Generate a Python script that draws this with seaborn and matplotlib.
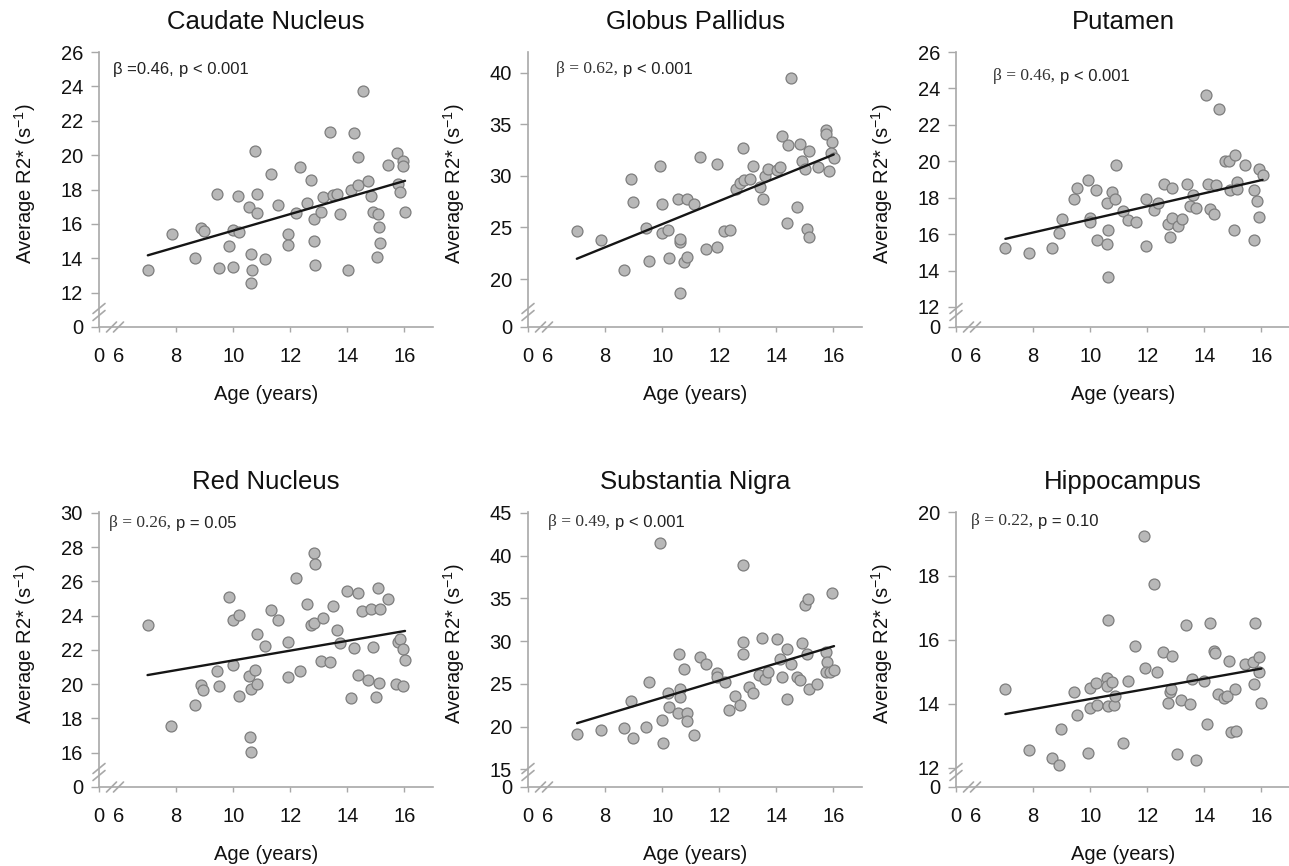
import numpy as np
import pandas as pd
import matplotlib
matplotlib.use("Agg")
import matplotlib.pyplot as plt
import seaborn as sns

# ---------------- data ----------------
titles = ["Caudate Nucleus", "Globus Pallidus", "Putamen",
          "Red Nucleus", "Substantia Nigra", "Hippocampus"]

age_caudate = [7.01, 7.84, 8.67, 8.87, 8.97, 9.42, 9.51, 9.86, 9.98, 10.0, 10.16, 10.22, 10.57, 10.63,
               10.65, 10.63, 10.78, 10.84, 10.84, 11.12, 11.33, 11.57, 11.92, 11.92, 12.19, 12.35, 12.59,
               12.74, 12.82, 12.82, 12.86, 13.06, 13.15, 13.38, 13.50, 13.62, 13.74, 14.03, 14.12, 14.23,
               14.36, 14.38, 14.56, 14.73, 14.83, 14.89, 15.03, 15.06, 15.11, 15.14, 15.41, 15.73, 15.79,
               15.85, 15.94, 15.94, 16.02]
r2_caudate = [13.34, 15.44, 14.04, 15.77, 15.58, 17.72, 13.46, 14.70, 15.64, 13.50, 17.62, 15.54, 16.99,
              14.24, 13.34, 12.58, 20.24, 17.72, 16.65, 13.98, 18.90, 17.09, 15.40, 14.76, 16.65, 19.33,
              17.19, 18.55, 16.28, 15.01, 13.63, 16.67, 17.58, 21.37, 17.68, 17.74, 16.57, 13.34, 17.97,
              21.28, 18.26, 19.91, 23.74, 18.49, 17.64, 16.71, 14.08, 16.57, 15.83, 14.90, 19.43, 20.11,
              18.30, 17.83, 19.66, 19.39, 16.71]

age_globus = [7.01, 7.85, 8.68, 8.91, 8.98, 9.44, 9.55, 9.92, 10.0, 10.0, 10.22, 10.23, 10.57, 10.61,
              10.64, 10.61, 10.78, 10.86, 10.86, 11.13, 11.34, 11.55, 11.91, 11.91, 12.18, 12.36, 12.57,
              12.74, 12.84, 12.86, 13.06, 13.18, 13.41, 13.53, 13.59, 13.72, 14.03, 14.14, 14.20, 14.36,
              14.40, 14.52, 14.73, 14.83, 14.90, 15.02, 15.07, 15.13, 15.14, 15.45, 15.75, 15.75, 15.83,
              15.96, 15.92, 16.01]
r2_globus = [24.66, 23.79, 20.87, 29.71, 27.44, 24.92, 21.75, 31.00, 24.43, 27.28, 24.76, 22.00, 27.80,
             23.62, 23.88, 18.67, 21.68, 22.17, 27.80, 27.28, 31.81, 22.88, 31.13, 23.14, 24.69, 24.76,
             28.71, 29.35, 32.69, 29.61, 29.71, 30.97, 28.96, 27.73, 30.00, 30.65, 30.52, 30.90, 33.88,
             25.40, 33.00, 39.48, 27.02, 33.07, 31.46, 30.65, 24.82, 32.36, 24.05, 30.90, 34.40, 34.05,
             30.42, 33.27, 32.20, 31.72]

age_putamen = [7.03, 7.85, 8.68, 8.90, 9.00, 9.43, 9.54, 9.93, 9.99, 10.01, 10.22, 10.24, 10.59, 10.60,
               10.63, 10.63, 10.77, 10.86, 10.90, 11.15, 11.33, 11.59, 11.94, 11.94, 12.23, 12.38, 12.58,
               12.71, 12.81, 12.85, 12.87, 13.06, 13.20, 13.40, 13.51, 13.61, 13.72, 14.04, 14.13, 14.21,
               14.34, 14.40, 14.51, 14.72, 14.86, 14.89, 15.04, 15.09, 15.15, 15.16, 15.44, 15.75, 15.75,
               15.83, 15.92, 15.92, 16.04]
r2_putamen = [15.22, 14.98, 15.25, 16.05, 16.82, 17.95, 18.55, 18.95, 16.91, 16.67, 18.45, 15.67, 17.71,
              15.47, 16.25, 13.62, 18.31, 17.95, 19.82, 17.27, 16.76, 16.64, 17.95, 15.35, 17.35, 17.73,
              18.76, 16.56, 15.82, 16.89, 18.55, 16.44, 16.85, 18.76, 17.53, 18.16, 17.44, 23.64, 18.76,
              17.36, 17.13, 18.67, 22.89, 20.04, 20.04, 18.45, 16.25, 20.35, 18.85, 18.49, 19.80, 18.40,
              15.67, 17.80, 19.58, 16.95, 19.22]

age_red = [7.00, 7.82, 8.67, 8.87, 8.95, 9.42, 9.52, 9.86, 9.98, 10.0, 10.19, 10.19, 10.54, 10.59, 10.63,
           10.63, 10.78, 10.84, 10.84, 11.12, 11.31, 11.57, 11.92, 11.92, 12.19, 12.35, 12.58, 12.74, 12.82,
           12.82, 12.86, 13.06, 13.15, 13.38, 13.50, 13.62, 13.74, 14.00, 14.12, 14.23, 14.36, 14.38, 14.52,
           14.73, 14.83, 14.91, 15.02, 15.08, 15.12, 15.14, 15.43, 15.72, 15.76, 15.84, 15.94, 15.94, 16.02]
r2_red = [23.47, 17.55, 18.77, 19.94, 19.68, 20.79, 19.92, 25.06, 23.76, 21.14, 24.05, 19.30, 20.46, 16.91,
          16.04, 19.72, 20.85, 22.92, 20.01, 22.24, 24.34, 23.72, 22.46, 20.40, 26.18, 20.79, 24.67, 23.47,
          23.60, 27.63, 26.99, 21.33, 23.89, 21.27, 24.57, 23.14, 22.40, 25.46, 19.20, 22.11, 20.56, 25.31,
          24.30, 20.23, 24.38, 22.20, 19.26, 25.64, 20.07, 24.40, 24.96, 20.01, 22.46, 22.65, 19.88, 22.07,
          21.43]

age_sn = [7.02, 7.84, 8.68, 8.91, 8.98, 9.43, 9.55, 9.91, 9.99, 10.02, 10.19, 10.23, 10.57, 10.58, 10.62,
          10.64, 10.78, 10.86, 10.87, 11.13, 11.32, 11.55, 11.91, 11.91, 12.20, 12.35, 12.55, 12.72, 12.82,
          12.84, 12.84, 13.05, 13.17, 13.38, 13.49, 13.60, 13.71, 14.01, 14.12, 14.19, 14.36, 14.37, 14.51,
          14.71, 14.82, 14.89, 15.00, 15.07, 15.11, 15.13, 15.44, 15.73, 15.79, 15.73, 15.88, 15.94, 16.02]
r2_sn = [19.18, 19.57, 19.88, 23.01, 18.63, 19.96, 25.27, 41.45, 20.78, 18.05, 23.98, 22.30, 21.56, 28.48,
         24.45, 23.48, 26.72, 21.56, 20.66, 19.02, 28.16, 27.38, 26.33, 25.82, 25.27, 21.91, 23.63, 22.48,
         29.92, 28.48, 38.95, 24.69, 23.91, 26.02, 30.39, 25.63, 26.41, 30.31, 27.89, 25.86, 23.20, 29.14,
         27.38, 25.86, 25.47, 29.73, 34.22, 28.55, 34.92, 24.45, 24.96, 28.75, 27.58, 26.45, 26.45, 35.63,
         26.60]

age_hippo = [7.03, 7.86, 8.67, 8.90, 8.99, 9.43, 9.55, 9.92, 9.99, 9.99, 10.21, 10.24, 10.58, 10.58, 10.62,
             10.62, 10.76, 10.85, 10.87, 11.14, 11.31, 11.57, 11.90, 11.92, 12.22, 12.34, 12.56, 12.71,
             12.80, 12.85, 12.83, 13.03, 13.17, 13.37, 13.49, 13.58, 13.70, 13.99, 14.10, 14.19, 14.34,
             14.37, 14.49, 14.69, 14.80, 14.88, 14.95, 15.06, 15.12, 15.42, 15.71, 15.73, 15.79, 15.91,
             15.93, 16.00]
r2_hippo = [14.48, 12.57, 12.31, 12.09, 13.22, 14.36, 13.66, 12.45, 14.49, 13.87, 14.65, 13.98, 14.82,
            14.57, 16.63, 13.93, 14.69, 13.95, 14.24, 12.79, 14.72, 15.81, 19.24, 15.11, 17.75, 15.00,
            15.62, 14.02, 14.38, 15.50, 14.46, 12.42, 14.13, 16.46, 14.00, 14.79, 12.26, 14.72, 13.38,
            16.53, 15.65, 15.60, 14.31, 14.18, 14.26, 15.34, 13.12, 14.46, 13.15, 15.26, 15.32, 14.62,
            16.53, 15.46, 15.00, 14.03]

ages = [age_caudate, age_globus, age_putamen, age_red, age_sn, age_hippo]
values = [r2_caudate, r2_globus, r2_putamen, r2_red, r2_sn, r2_hippo]

yticks = [[12, 14, 16, 18, 20, 22, 24, 26],
          [20, 25, 30, 35, 40],
          [12, 14, 16, 18, 20, 22, 24, 26],
          [16, 18, 20, 22, 24, 26, 28, 30],
          [15, 20, 25, 30, 35, 40, 45],
          [12, 14, 16, 18, 20]]
xticks = [6, 8, 10, 12, 14, 16]

stat_beta = ["β =0.46,", "β = 0.62,", "β = 0.46,", "β = 0.26,", "β = 0.49,", "β = 0.22,"]
stat_p = ["p < 0.001", "p < 0.001", "p < 0.001", "p = 0.05", "p < 0.001", "p = 0.10"]

# ---------------- layout / style ----------------
W, H = 1289, 866
ax_w, ax_h = 334, 275
lefts = [99, 528, 956]
tops = [52, 512]
ylims = [(10.0, 26.0), (15.35, 42.0), (10.9, 26.0),
         (14.0, 30.05), (12.95, 45.1), (11.4, 20.0)]
xlim = (5.3, 17.0)
stat_pos = [(0.042, 0.908), (0.084, 0.908), (0.11, 0.884),
            (0.03, 0.931), (0.06, 0.935), (0.045, 0.938)]
serif_beta = [False, True, True, True, True, True]

AXIS_GRAY = "#a8a8a8"

sns.set_theme(style="white")
plt.rcParams["font.family"] = ["Liberation Sans", "DejaVu Sans"]
plt.rcParams["mathtext.fontset"] = "custom"
plt.rcParams["mathtext.rm"] = "Liberation Sans"
plt.rcParams["mathtext.it"] = "Liberation Sans:italic"

fig = plt.figure(figsize=(W / 100, H / 100), dpi=100)


def add_breaks(ax):
    kw = dict(transform=ax.transAxes, color=AXIS_GRAY, lw=1.2, clip_on=False, zorder=5)
    # y-axis break
    for off in (-3.5, 3.5):
        cx, cy = 0.0, 15.0 + off
        ax.plot([(cx - 6) / ax_w, (cx + 6) / ax_w], [(cy - 5) / ax_h, (cy + 5) / ax_h], **kw)
    # x-axis break
    for off in (-3.5, 3.5):
        cx, cy = 16.0 + off, 0.0
        ax.plot([(cx - 5) / ax_w, (cx + 5) / ax_w], [(cy - 5) / ax_h, (cy + 5) / ax_h], **kw)


for i in range(6):
    row, col = divmod(i, 3)
    left = lefts[col]
    top = tops[row]
    ax = fig.add_axes([left / W, 1 - (top + ax_h) / H, ax_w / W, ax_h / H])
    df = pd.DataFrame({"age": ages[i], "r2": values[i]})
    sns.regplot(data=df, x="age", y="r2", ax=ax, ci=None,
                scatter_kws=dict(s=62, color="#b8b8b8", edgecolor="#7d7d7d",
                                 linewidths=0.9, alpha=1, zorder=3),
                line_kws=dict(color="#151515", lw=1.7, zorder=4))
    ax.set_xlim(*xlim)
    ax.set_ylim(*ylims[i])

    xt = [xlim[0]] + xticks
    ax.set_xticks(xt)
    ax.set_xticklabels(["0"] + [str(v) for v in xticks])
    yt = [ylims[i][0]] + yticks[i]
    ax.set_yticks(yt)
    ax.set_yticklabels(["0"] + [str(v) for v in yticks[i]])

    for s in ("top", "right"):
        ax.spines[s].set_visible(False)
    for s in ("left", "bottom"):
        ax.spines[s].set_color(AXIS_GRAY)
        ax.spines[s].set_linewidth(1.2)
    ax.tick_params(axis="y", direction="out", length=5.5, width=1.0, color=AXIS_GRAY,
                   labelsize=14.5, pad=6, labelcolor="#111111", left=True)
    ax.tick_params(axis="x", direction="out", length=3.5, width=1.0, color=AXIS_GRAY,
                   labelsize=14.5, pad=11, labelcolor="#111111", bottom=True)
    # tick at 6 is hidden by the axis break
    ax.xaxis.get_major_ticks()[1].tick1line.set_visible(False)

    ax.set_xlabel("Age (years)", fontsize=14.5, color="#111111", va="center")
    ax.xaxis.set_label_coords(0.5, -67 / ax_h)
    ax.set_ylabel(r"Average R2* (s$^{\mathregular{-1}}$)", fontsize=14.5, color="#111111",
                  va="center")
    ax.yaxis.set_label_coords(-74 / ax_w, 0.52)

    ax.text(0.5, 1 + 30 / ax_h, titles[i], transform=ax.transAxes, ha="center",
            va="center", fontsize=18.5, color="#111111")

    sx, sy = stat_pos[i]
    if serif_beta[i]:
        t1 = ax.text(sx, sy, stat_beta[i], transform=ax.transAxes, ha="left", va="bottom",
                     fontsize=12.5, color="#333333", family=["Liberation Serif", "DejaVu Serif"])
    else:
        t1 = ax.text(sx, sy, stat_beta[i], transform=ax.transAxes, ha="left", va="bottom",
                     fontsize=12, color="#222222")
    ax.annotate(stat_p[i], xy=(1, 0), xycoords=t1, xytext=(3.5, 0), textcoords="offset points",
                ha="left", va="bottom", fontsize=12, color="#222222")

    add_breaks(ax)

fig.savefig("out.png", dpi=100)
